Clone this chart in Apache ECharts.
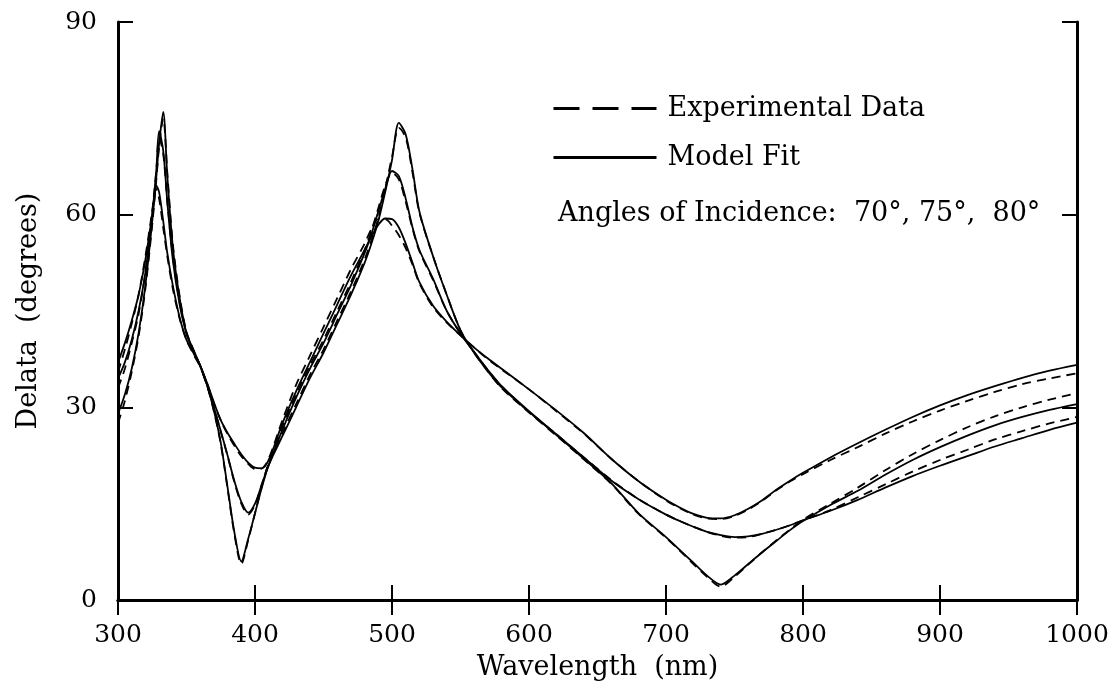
<!DOCTYPE html>
<html>
<head>
<meta charset="utf-8">
<script src="https://cdn.jsdelivr.net/npm/echarts@6/dist/echarts.min.js"></script>
<style>html,body{margin:0;padding:0;background:#fff;}#chart{width:1119px;height:696px;}</style>
</head>
<body>
<div id="chart"></div>
<script>
// Wavelength grid (nm), shared by all curves
var wavelength = [300,305,310,315,320,325,328,330,333,336,340,345,350,355,360,365,370,375,380,385,390,395,400,405,410,420,430,440,450,460,470,480,485,490,495,500,505,510,515,520,530,540,550,560,570,580,600,620,640,660,680,700,710,720,730,740,750,760,770,780,790,800,820,840,860,880,900,920,940,960,980,1000];

// Curve with broadest features
var fitA = [37,40,43.5,47.5,53,60,64.5,63.5,59,54,49,44,40.5,38.5,36.5,33.8,30.8,28,26,24.3,22.7,21.4,20.6,20.5,21.8,27.5,32.5,37,41.5,46,50.5,54.5,56.6,58.4,59.4,59.3,58,55.5,52.5,49.5,45.8,43.3,41.2,39.3,37.6,36,32.8,29.5,26,22,18.5,15.6,14.4,13.4,12.8,12.7,13.2,14.2,15.5,17.1,18.5,19.8,22.2,24.4,26.5,28.5,30.3,31.9,33.3,34.6,35.7,36.6];
var expA = [35.5,39,43,47.5,53.5,60.5,64,62.5,58,53.5,48.5,43.8,40.5,38.3,36.3,33.7,30.6,28,25.8,24,22.4,21.2,20.4,20.5,22,28,33.5,38,42.5,47,51.5,55.5,57.8,59.3,59.3,58.3,56.8,54.8,52.2,49.3,45.6,43.2,41.2,39.3,37.5,35.9,32.8,29.4,25.9,22,18.5,15.5,14.3,13.3,12.7,12.6,13.1,14.1,15.4,17,18.4,19.6,21.8,23.8,25.9,27.8,29.5,31,32.4,33.6,34.5,35.3];

// Intermediate curve
var fitB = [34.5,37,40.5,45,51,60,67,73,70,62,53,46,41.5,39,36.5,33.5,30,26.3,22.5,18.5,15.3,13.6,15,18,21,26.5,31.5,36,40,44.5,49,54,57,60.5,64,66.8,66,62.5,58,54.5,50,45,41.5,38.6,35.8,33.3,29.4,25.8,22.2,18.6,15.7,13.3,12.3,11.4,10.6,10.1,9.8,9.9,10.3,10.9,11.6,12.4,13.9,15.6,17.5,19.3,20.9,22.4,23.9,25.2,26.5,27.6];
var expB = [33,36,40,44.5,51,60.5,67,72,69.5,62,53.5,46.3,41.7,39,36.4,33.4,30,26.2,22.4,18.3,15,13.3,14.8,18,21.3,27,32,36.5,40.5,45,49.5,54.5,57.5,61,64.5,66.5,65.5,62,57.8,54.3,49.8,45,41.5,38.6,35.8,33.3,29.3,25.8,22.2,18.7,15.7,13.3,12.3,11.4,10.6,10,9.7,9.8,10.3,10.9,11.6,12.4,14,16,18,20,21.8,23.4,25,26.3,27.5,28.5];

// Sharpest curve
var fitC = [29,32,36,41.5,49,59,66,71,76,66,55,47,41.5,38.8,36.5,33.5,29.5,24.5,17.5,10.5,6,9.5,13.5,17.5,21,25.5,30,34.5,38.5,43,47.5,52.5,55.5,59,63.5,68.5,74.3,72.5,67,60.5,53.5,47.5,42,38.5,35.6,33.1,29.3,25.7,22,18.2,13.5,9.8,7.8,5.8,3.8,2.4,3.8,5.6,7.4,9.1,10.8,12.3,14.8,17,19.5,21.8,23.8,25.6,27.2,28.5,29.6,30.5];
var expC = [27.5,31,35.5,41,48.5,58.5,65.5,70.5,75,66.5,55.5,47.3,41.7,38.8,36.4,33.4,29.4,24.3,17.3,10.2,5.6,9.3,13.5,17.7,21.3,26,30.5,35,39,43.5,48,53,56,59.5,64,69,73.5,72,66.5,60.3,53.5,47.5,42,38.5,35.6,33,29.2,25.6,21.9,18.1,13.4,9.7,7.7,5.6,3.6,2.1,3.6,5.5,7.4,9.2,10.9,12.5,15,17.5,20.2,22.7,24.9,26.9,28.6,30,31.2,32.2];

var xTicks = [300,1000,100];
var yTicks = [0,90,30];
var legendNames = ['Experimental Data','Model Fit'];
var anglesText = 'Angles of Incidence:  70°, 75°,  80°';

function pairs(vals){ return wavelength.map(function(w,i){ return [w, vals[i]]; }); }

var FONT = 'DejaVu Serif';
var chart = echarts.init(document.getElementById('chart'), null, {renderer:'canvas'});

function mkSeries(name, vals, dashed){
  return {
    name: name, type: 'line', data: pairs(vals), symbol: 'none', smooth: 0.3,
    xAxisIndex: 0, yAxisIndex: 0, animation: false,
    lineStyle: {color: '#000', width: 1.8, type: dashed ? [9,6] : 'solid'},
    itemStyle: {color: '#000'}
  };
}

var axisCommon = {
  axisLine: {show: true, lineStyle: {color: '#000', width: 3}},
  axisTick: {show: true, inside: true, length: 15, lineStyle: {color: '#000', width: 2}},
  splitLine: {show: false}
};
function plainLabel(v){ return String(v); }

var option = {
  backgroundColor: '#fff',
  animation: false,
  grid: {left: 118, right: 42, top: 22, bottom: 96, containLabel: false},
  title: {
    text: anglesText, left: 553, top: 195,
    textStyle: {fontFamily: FONT, fontSize: 27, fontWeight: 'normal', color: '#000'}
  },
  legend: {
    orient: 'vertical', left: 547, top: 90, itemGap: 22, itemWidth: 103, itemHeight: 25,
    selectedMode: false,
    itemStyle: {opacity: 0},
    textStyle: {fontFamily: FONT, fontSize: 27, color: '#000', padding: [0,0,0,6]},
    data: [
      {name: legendNames[0], itemStyle: {opacity: 0}, lineStyle: {type: [26,13], width: 3, color: '#000'}},
      {name: legendNames[1], itemStyle: {opacity: 0}, lineStyle: {type: 'solid', width: 3, color: '#000'}}
    ]
  },
  xAxis: [
    Object.assign({}, axisCommon, {
      type: 'value', position: 'bottom', min: xTicks[0], max: xTicks[1], interval: xTicks[2],
      name: 'Wavelength  (nm)', nameLocation: 'middle', nameGap: 54,
      nameTextStyle: {fontFamily: FONT, fontSize: 27, color: '#000'},
      axisLabel: {fontFamily: FONT, fontSize: 25, color: '#000', margin: 23, formatter: plainLabel}
    }),
    Object.assign({}, axisCommon, {
      type: 'value', position: 'top', min: xTicks[0], max: xTicks[1], interval: xTicks[2],
      axisLabel: {show: false}
    })
  ],
  yAxis: [
    Object.assign({}, axisCommon, {
      type: 'value', position: 'left', min: yTicks[0], max: yTicks[1], interval: yTicks[2],
      name: 'Delata  (degrees)', nameLocation: 'middle', nameGap: 76, nameRotate: 90,
      nameTextStyle: {fontFamily: FONT, fontSize: 27, color: '#000'},
      axisLabel: {fontFamily: FONT, fontSize: 25, color: '#000', margin: 21, formatter: plainLabel}
    }),
    Object.assign({}, axisCommon, {
      type: 'value', position: 'right', min: yTicks[0], max: yTicks[1], interval: yTicks[2],
      axisLabel: {show: false}
    })
  ],
  series: [
    mkSeries(legendNames[0], expA, true),
    mkSeries(legendNames[0], expB, true),
    mkSeries(legendNames[0], expC, true),
    mkSeries(legendNames[1], fitA, false),
    mkSeries(legendNames[1], fitB, false),
    mkSeries(legendNames[1], fitC, false)
  ]
};
chart.setOption(option);
</script>
</body>
</html>
